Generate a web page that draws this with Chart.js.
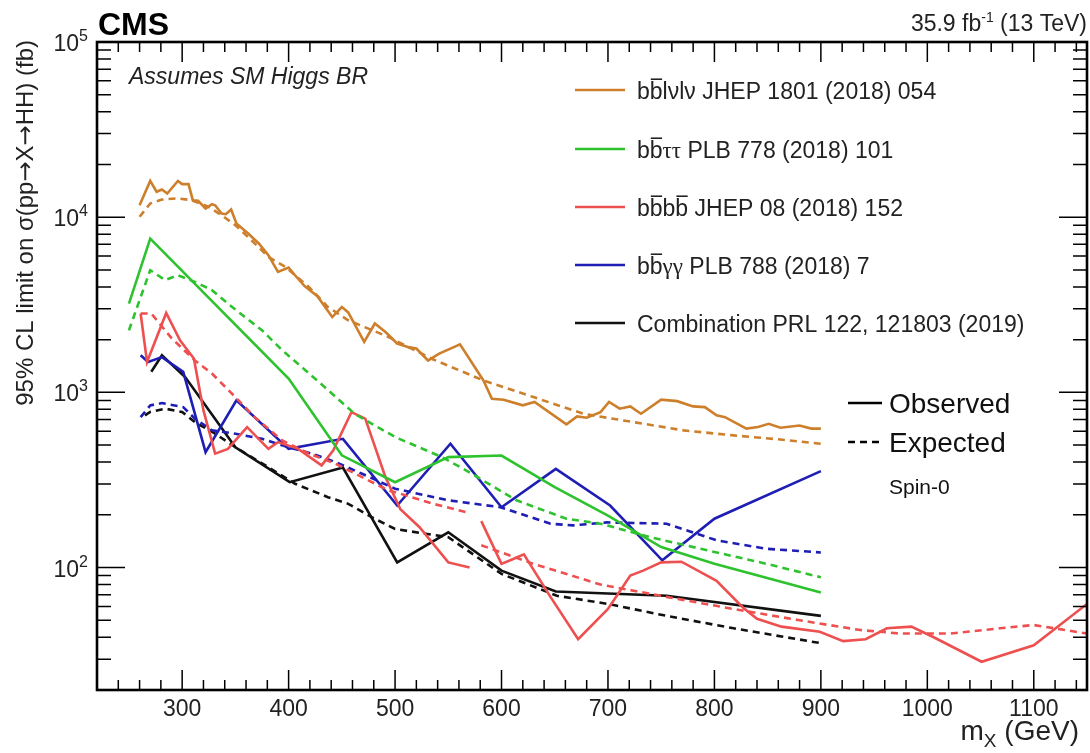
<!DOCTYPE html>
<html>
<head>
<meta charset="utf-8">
<script src="https://cdn.jsdelivr.net/npm/chart.js@4.4.1/dist/chart.umd.min.js"></script>
<style>
  body { margin: 0; background: #fff; }
  #wrap { width: 1090px; height: 753px; }
</style>
</head>
<body>
<div id="wrap"><canvas id="limits" width="1090" height="753"></canvas></div>
<script>
// [mass (GeV), 95% CL limit (fb)]
const bblvlvObs = [
  [260, 11700], [270, 16100], [276, 13970], [281, 14400], [286, 13650], [296, 16100],
  [300, 15450], [306, 15450], [310, 12500], [315, 12400], [322, 11200], [328, 11860],
  [331, 11700], [337, 10500], [341, 10400], [346, 11070], [351, 9200], [362, 8070],
  [372, 7080], [381, 6070], [390, 4870], [400, 5160], [406, 4660], [415, 4040],
  [427, 3540], [441, 2690], [450, 3070], [456, 2860], [471, 1940], [481, 2470],
  [491, 2210], [502, 1900], [512, 1815], [520, 1780], [531, 1520], [541, 1660],
  [561, 1880], [583, 1170], [591, 920], [602, 908], [620, 843], [631, 881],
  [661, 657], [671, 729], [680, 716], [693, 771], [701, 881], [711, 807],
  [721, 832], [731, 755], [750, 908], [765, 891], [780, 832], [791, 824],
  [802, 739], [810, 722], [830, 621], [841, 634], [851, 662], [862, 628],
  [880, 647], [891, 621], [900, 621]
];
const bblvlvExp = [
  [260, 10050], [270, 11970], [281, 12610], [296, 12800], [309, 12500], [325, 11450],
  [337, 10260], [350, 9000], [365, 7390], [381, 5930], [397, 5200], [419, 4000],
  [437, 3070], [456, 2580], [475, 2310], [494, 2070], [512, 1820], [536, 1540],
  [583, 1170], [630, 940], [677, 755], [724, 676], [771, 607], [818, 568],
  [864, 537], [900, 509]
];
const bbttObs = [
  [250, 3210], [270, 7550], [400, 1200], [450, 437], [500, 307], [550, 427],
  [600, 436], [650, 288], [700, 198], [750, 131], [800, 105], [900, 72]
];
const bbttExp = [
  [250, 2260], [260, 3360], [270, 4980], [284, 4370], [296, 4660], [312, 4270],
  [328, 3830], [343, 3210], [359, 2690], [375, 2260], [394, 1740], [412, 1400],
  [434, 1070], [462, 755], [500, 556], [544, 427], [567, 358], [614, 242],
  [661, 190], [693, 178], [740, 149], [787, 128], [849, 105], [900, 88]
];
const bbbbLowObs = [
  [261, 2820], [267, 1490], [285, 2840], [298, 1980], [311, 1560], [320, 789],
  [331, 447], [343, 476], [361, 634], [381, 476], [390, 520], [409, 476],
  [431, 383], [442, 467], [459, 771], [472, 708], [491, 328], [505, 215],
  [523, 170], [550, 107], [570, 100]
];
const bbbbLowExp = [
  [261, 2820], [271, 2820], [290, 2040], [312, 1520], [328, 1280], [350, 940],
  [368, 722], [394, 532], [419, 447], [444, 392], [469, 328], [494, 275],
  [505, 264], [536, 231], [567, 207]
];
const bbbbHighObs = [
  [581, 184], [600, 105], [611, 112], [621, 119], [646, 68], [672, 39],
  [700, 58], [721, 90], [733, 96], [750, 107], [769, 108], [802, 84],
  [827, 59], [840, 51], [863, 46], [899, 43], [921, 38], [942, 39],
  [962, 45], [985, 46], [1006, 40], [1051, 29], [1100, 36], [1150, 62]
];
const bbbbHighExp = [
  [581, 134], [630, 105], [693, 80], [755, 68], [818, 58], [880, 50],
  [937, 44], [974, 42], [1021, 42], [1068, 45], [1100, 47], [1150, 42]
];
const bbggObs = [
  [261, 1630], [268, 1490], [281, 1590], [301, 1310], [322, 456], [351, 900],
  [400, 476], [451, 543], [502, 226], [552, 509], [600, 221], [651, 366],
  [702, 226], [751, 110], [800, 190], [900, 355]
];
const bbggExp = [
  [261, 722], [270, 843], [281, 869], [301, 824], [312, 708], [328, 607],
  [350, 581], [375, 543], [400, 486], [422, 447], [444, 400], [469, 343],
  [500, 282], [550, 242], [599, 221], [646, 178], [667, 174], [699, 181],
  [755, 178], [802, 143], [849, 128], [900, 122]
];
const comboObs = [
  [271, 1310], [281, 1630], [303, 1220], [350, 486], [401, 307], [451, 372],
  [502, 107], [550, 159], [600, 96], [651, 73], [755, 69], [900, 53]
];
const comboExp = [
  [265, 740], [270, 773], [284, 807], [300, 773], [312, 676], [331, 581],
  [350, 486], [381, 374], [406, 301], [437, 252], [456, 231], [478, 194],
  [500, 166], [550, 149], [600, 92], [652, 69], [700, 62], [755, 53],
  [818, 45], [900, 37]
];

const xTicks = [300, 400, 500, 600, 700, 800, 900, 1000, 1100];
const yDecades = [100, 1000, 10000, 100000];

const ORANGE = '#CD7F2C', GREEN = '#2EC22E', RED = '#EE4F4F', BLUE = '#1E1EB4', BLACK = '#111111';
const SANS = '"Liberation Sans", Arial, Helvetica, sans-serif';
const SERIF = '"Liberation Serif", "DejaVu Serif", serif';
const SYMBOL = '"DejaVu Sans", sans-serif';

// legend rows: [text, overline?, font family]
const legendRows = [
  { color: ORANGE, parts: [['b'], ['b', 1], ['lνlν'], [' JHEP 1801 (2018) 054']] },
  { color: GREEN,  parts: [['b'], ['b', 1], ['ττ', 0, SERIF], [' PLB 778 (2018) 101']] },
  { color: RED,    parts: [['b'], ['b', 1], ['b'], ['b', 1], [' JHEP 08 (2018) 152']] },
  { color: BLUE,   parts: [['b'], ['b', 1], ['γγ', 0, SERIF], [' PLB 788 (2018) 7']] },
  { color: BLACK,  parts: [['Combination PRL 122, 121803 (2019)']] }
];
const yTitleParts = [
  ['95% CL limit on σ(pp'], ['→', 0, SYMBOL], ['X'], ['→', 0, SYMBOL], ['HH) (fb)']
];

function curve(points, color, dashed) {
  return {
    data: points.map(p => ({ x: p[0], y: p[1] })),
    borderColor: color,
    borderWidth: 2.6,
    borderDash: dashed ? [7, 5] : [],
    pointRadius: 0,
    fill: false,
    tension: 0
  };
}

function richWidth(ctx, parts, size) {
  let w = 0;
  for (const [text, , family] of parts) {
    ctx.font = size + 'px ' + (family || SANS);
    w += ctx.measureText(text).width;
  }
  return w;
}

function drawRich(ctx, parts, x, y, size) {
  let cx = x;
  for (const [text, bar, family] of parts) {
    ctx.font = size + 'px ' + (family || SANS);
    ctx.fillText(text, cx, y);
    const w = ctx.measureText(text).width;
    if (bar) {
      ctx.beginPath();
      ctx.lineWidth = 1.6;
      ctx.moveTo(cx + 1, y - size * 0.86);
      ctx.lineTo(cx + w - 0.5, y - size * 0.86);
      ctx.stroke();
    }
    cx += w;
  }
}

const decorations = {
  id: 'decorations',
  afterDraw(chart) {
    const ctx = chart.ctx;
    const { left, right, top, bottom } = chart.chartArea;
    const xs = chart.scales.x, ys = chart.scales.y;
    ctx.save();
    ctx.strokeStyle = '#000';
    ctx.fillStyle = '#000';
    ctx.textAlign = 'left';

    // inward ticks on all four sides
    ctx.lineWidth = 1.5;
    ctx.beginPath();
    for (let m = 240; m < xs.max; m += 20) {
      const px = xs.getPixelForValue(m);
      const len = m % 100 === 0 ? 20 : 10;
      ctx.moveTo(px, bottom); ctx.lineTo(px, bottom - len);
      ctx.moveTo(px, top); ctx.lineTo(px, top + len);
    }
    for (let d = 10; d < ys.max; d *= 10) {
      for (let k = 1; k <= 9; k++) {
        const v = k * d;
        if (v <= ys.min || v >= ys.max) continue;
        const py = ys.getPixelForValue(v);
        const len = k === 1 ? 28 : 14;
        ctx.moveTo(left, py); ctx.lineTo(left + len, py);
        ctx.moveTo(right, py); ctx.lineTo(right - len, py);
      }
    }
    ctx.stroke();

    // frame
    ctx.lineWidth = 2.6;
    ctx.strokeRect(left, top, right - left, bottom - top);

    // y tick labels 10^n
    ctx.fillStyle = '#222';
    for (const v of yDecades) {
      const py = ys.getPixelForValue(v);
      const exp = String(Math.round(Math.log10(v)));
      ctx.font = '16px ' + SANS;
      const ew = ctx.measureText(exp).width;
      ctx.textAlign = 'right';
      ctx.fillText(exp, 88, py - 1);
      ctx.font = '23px ' + SANS;
      ctx.fillText('10', 88 - ew, py + 9);
    }
    ctx.textAlign = 'left';

    // y axis title, right end at the top of the frame
    ctx.save();
    ctx.translate(33, 40);
    ctx.rotate(-Math.PI / 2);
    const yw = richWidth(ctx, yTitleParts, 24);
    drawRich(ctx, yTitleParts, -yw, 0, 24);
    ctx.restore();

    // x axis title m_X (GeV)
    ctx.font = '28px ' + SANS;
    const tail = ' (GeV)';
    const tw = ctx.measureText(tail).width;
    const mw = ctx.measureText('m').width;
    ctx.font = '19px ' + SANS;
    const xw = ctx.measureText('X').width;
    const tx = 1079 - tw - xw - mw;
    ctx.font = '28px ' + SANS;
    ctx.fillText('m', tx, 740);
    ctx.font = '19px ' + SANS;
    ctx.fillText('X', tx + mw, 747);
    ctx.font = '28px ' + SANS;
    ctx.fillText(tail, tx + mw + xw, 740);

    // header
    ctx.fillStyle = '#000';
    ctx.font = 'bold 32px ' + SANS;
    ctx.fillText('CMS', 98, 35);
    ctx.fillStyle = '#222';
    ctx.textAlign = 'right';
    ctx.font = '23px ' + SANS;
    const lumiTail = ' (13 TeV)';
    const ltw = ctx.measureText(lumiTail).width;
    ctx.fillText(lumiTail, 1087, 31);
    ctx.font = '14px ' + SANS;
    const supw = ctx.measureText('-1').width;
    ctx.fillText('-1', 1087 - ltw, 22);
    ctx.font = '23px ' + SANS;
    ctx.fillText('35.9 fb', 1087 - ltw - supw, 31);

    ctx.textAlign = 'left';
    ctx.font = 'italic 23px ' + SANS;
    ctx.fillText('Assumes SM Higgs BR', 129, 84);

    // analysis legend
    legendRows.forEach((row, i) => {
      const ly = [90, 149, 207, 265, 323][i];
      ctx.strokeStyle = row.color;
      ctx.lineWidth = 2.6;
      ctx.beginPath();
      ctx.moveTo(575, ly); ctx.lineTo(625, ly);
      ctx.stroke();
      ctx.strokeStyle = '#222';
      ctx.fillStyle = '#222';
      drawRich(ctx, row.parts, 637, ly + 9, 23);
    });

    // line style legend
    ctx.strokeStyle = '#000';
    ctx.lineWidth = 2.6;
    ctx.beginPath();
    ctx.moveTo(848, 403); ctx.lineTo(882, 403);
    ctx.stroke();
    ctx.setLineDash([7, 5]);
    ctx.beginPath();
    ctx.moveTo(848, 442); ctx.lineTo(884, 442);
    ctx.stroke();
    ctx.setLineDash([]);
    ctx.fillStyle = '#111';
    ctx.font = '28px ' + SANS;
    ctx.fillText('Observed', 889, 413);
    ctx.fillText('Expected', 889, 452);
    ctx.font = '21px ' + SANS;
    ctx.fillText('Spin-0', 889, 494);
    ctx.restore();
  }
};

new Chart(document.getElementById('limits'), {
  type: 'line',
  data: {
    datasets: [
      curve(bblvlvExp, ORANGE, true), curve(bblvlvObs, ORANGE, false),
      curve(bbttExp, GREEN, true), curve(bbttObs, GREEN, false),
      curve(bbbbLowExp, RED, true), curve(bbbbLowObs, RED, false),
      curve(bbbbHighExp, RED, true), curve(bbbbHighObs, RED, false),
      curve(bbggExp, BLUE, true), curve(bbggObs, BLUE, false),
      curve(comboExp, BLACK, true), curve(comboObs, BLACK, false)
    ]
  },
  options: {
    responsive: false,
    devicePixelRatio: 1,
    animation: false,
    layout: { padding: { top: 42, right: 3, left: 0, bottom: 0 } },
    plugins: { legend: { display: false }, tooltip: { enabled: false } },
    scales: {
      x: {
        type: 'linear',
        min: 220,
        max: 1150,
        afterFit(scale) { scale.height = 63; },
        afterBuildTicks(scale) { scale.ticks = xTicks.map(v => ({ value: v })); },
        grid: { display: false, drawTicks: false },
        border: { display: false },
        ticks: {
          padding: 6,
          color: '#222',
          maxRotation: 0,
          autoSkip: false,
          font: { family: SANS, size: 23 },
          callback: v => String(v)
        }
      },
      y: {
        type: 'logarithmic',
        min: 20,
        max: 100000,
        afterFit(scale) { scale.width = 97; },
        grid: { display: false, drawTicks: false },
        border: { display: false },
        ticks: { display: false }
      }
    }
  },
  plugins: [decorations]
});
</script>
</body>
</html>
